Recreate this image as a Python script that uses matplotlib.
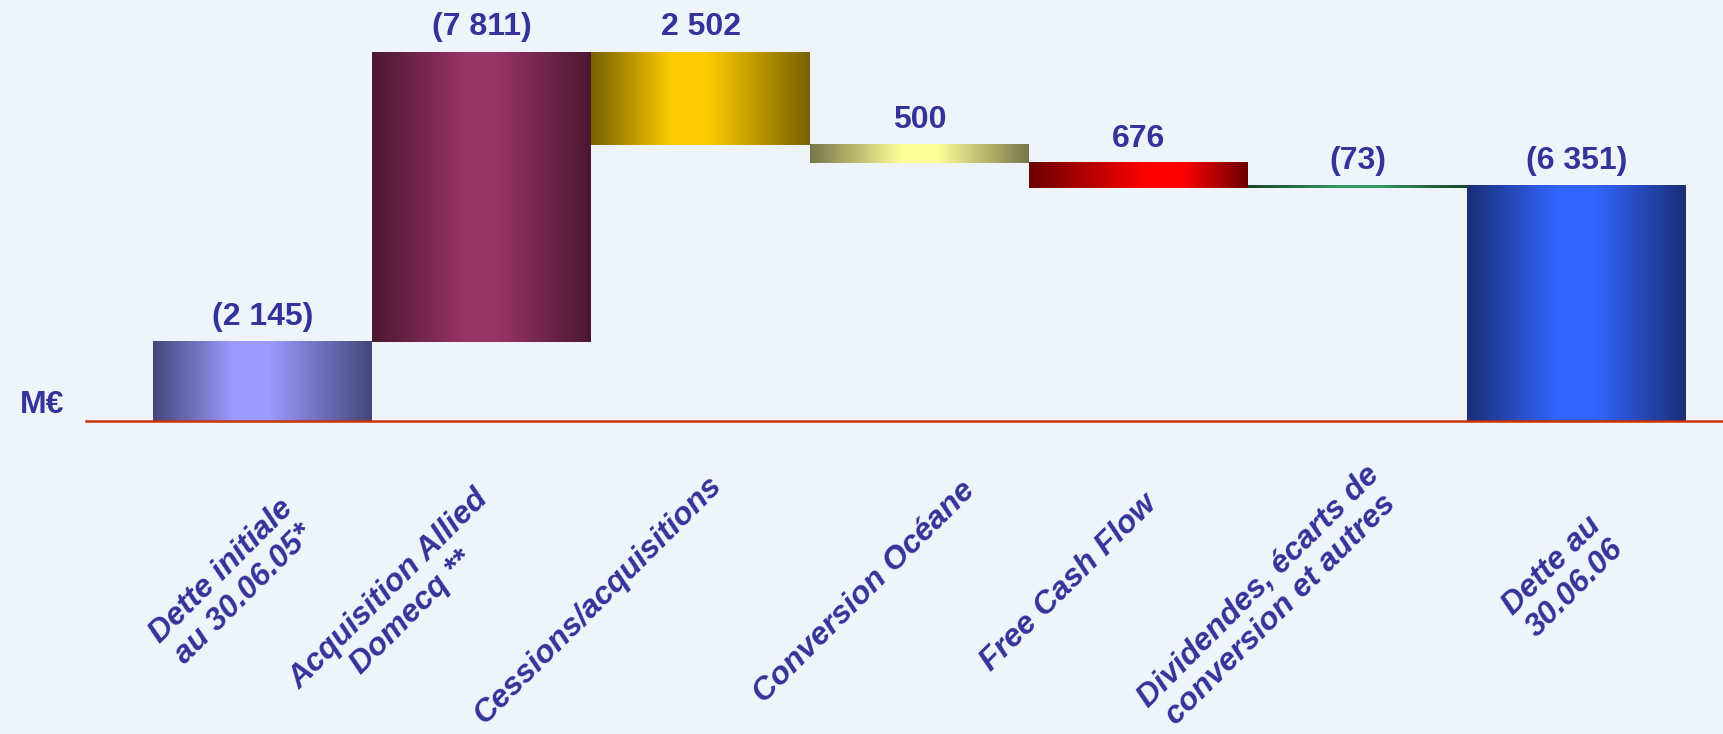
import numpy as np
import matplotlib.pyplot as plt
from matplotlib.colors import LinearSegmentedColormap

# data (M€) -- debt increases shown in parentheses (negative)
categories = [
    "Dette initiale\nau 30.06.05*",
    "Acquisition Allied\nDomecq **",
    "Cessions/acquisitions",
    "Conversion Océane",
    "Free Cash Flow",
    "Dividendes, écarts de\nconversion et autres",
    "Dette au\n30.06.06",
]
flows = [-2145, -7811, 2502, 500, 676, -73]
closing = -6351

edge_colors = ["#45477a", "#4a1830", "#776000", "#77774a", "#6b0000", "#184428", "#1a2e78"]
center_colors = ["#9b9bff", "#983366", "#ffcc00", "#ffff99", "#ff0000", "#349a68", "#3366ff"]
bright_pos = [0.45, 0.5, 0.45, 0.5, 0.62, 0.5, 0.5]

TEXT = "#333399"
BG = "#eff3fa"
FONT = "Liberation Sans"

# label placement (layout only): x nudge from bar centre, y in figure pixels from bottom
label_dx = [-0.135, -0.37, -0.47, -0.25, -0.32, -0.40, -0.06]
label_py = [151, 133, 134, 142, 151, 136, 157]


def fmt(v):
    s = f"{abs(v):,}".replace(",", " ")
    return f"({s})" if v < 0 else s


def waterfall(flows, closing):
    bottoms, tops = [], []
    level = 0
    for f in flows:
        new = level - f
        bottoms.append(min(level, new))
        tops.append(max(level, new))
        level = new
    bottoms.append(0)
    tops.append(-closing)
    return bottoms, tops


def gradient_bar(ax, x0, x1, y0, y1, edge, center, pos):
    cmap = LinearSegmentedColormap.from_list(
        "bar", [(0, edge), (max(pos - 0.08, 0.05), center), (min(pos + 0.08, 0.95), center), (1, edge)]
    )
    grad = np.linspace(0, 1, 256).reshape(1, -1)
    ax.imshow(grad, cmap=cmap, extent=(x0, x1, y0, y1), aspect="auto",
              interpolation="bilinear", zorder=2)


def main():
    fig = plt.figure(figsize=(17.24, 7.34), dpi=100, facecolor=BG)
    ax = fig.add_axes([0, 0, 1, 1])
    ax.set_facecolor(BG)

    bottoms, tops = waterfall(flows, closing)
    values = flows + [closing]
    n = len(values)

    for i in range(n):
        gradient_bar(ax, i - 0.5, i + 0.5, bottoms[i], tops[i],
                     edge_colors[i], center_colors[i], bright_pos[i])
        ax.annotate(fmt(values[i]), (i, tops[i]), xytext=(0, 7), textcoords="offset points",
                    ha="center", va="bottom", fontsize=23, fontweight="bold",
                    color=TEXT, family=FONT, zorder=4)

    # zero line
    ax.axhline(0, xmin=86 / 1724, xmax=1, color="#cc3300", lw=1.8, zorder=3)
    fig.text(42 / 1724, 1 - 405 / 734, "M€", ha="center", va="center", fontsize=23,
             fontweight="bold", color=TEXT, family=FONT)

    for i, lab in enumerate(categories):
        ax.annotate(lab, (i + label_dx[i], label_py[i]), xycoords=("data", "figure pixels"),
                    ha="center", va="center", rotation=45, multialignment="center",
                    fontsize=23, fontweight="bold", fontstyle="italic",
                    color=TEXT, family=FONT, linespacing=1.1)

    ax.set_xlim(-1.199, 6.674)
    ax.set_ylim(-8446, 11360)
    ax.axis("off")

    fig.savefig("out.png", dpi=100, facecolor=BG)
    plt.close(fig)


if __name__ == "__main__":
    main()
